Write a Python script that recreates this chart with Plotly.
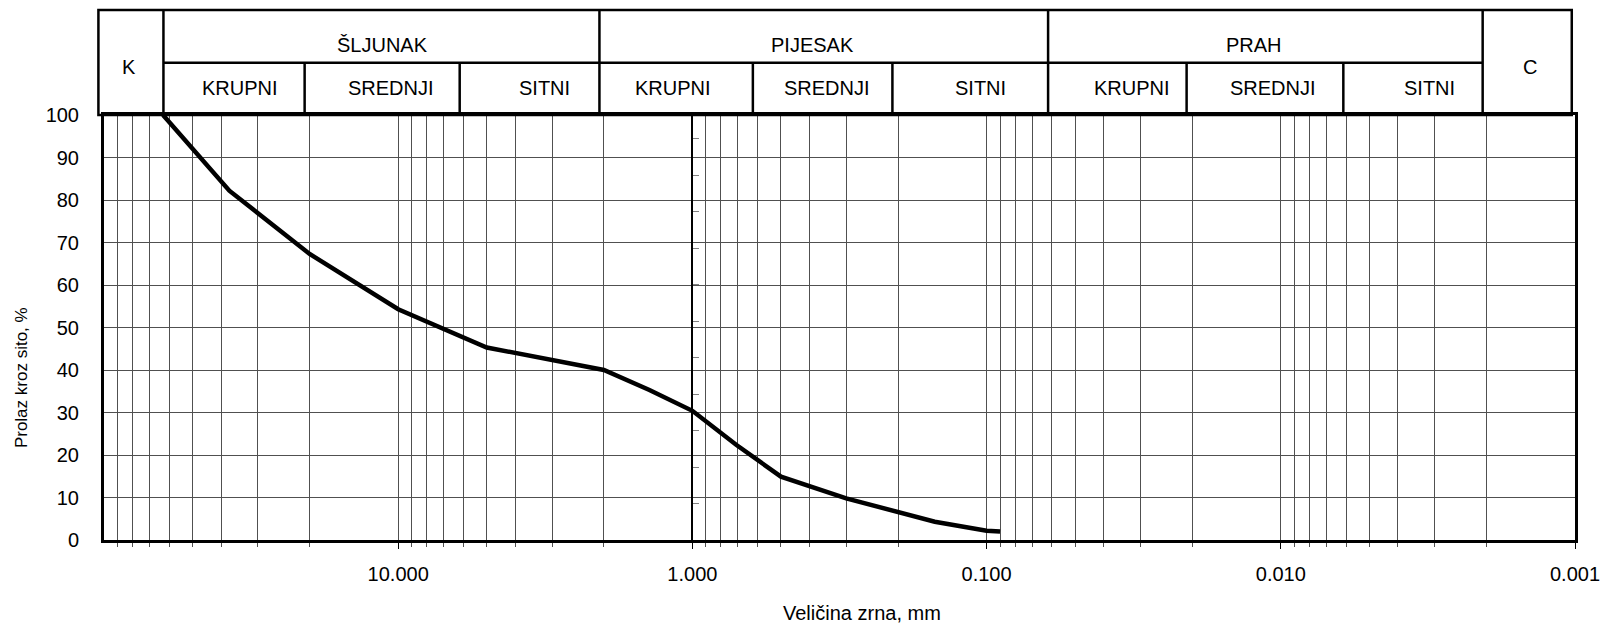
import math
import plotly.graph_objects as go

# ---- data ----
size_mm = [63, 37.5, 20, 10, 5, 2, 1.4, 1.0, 0.71, 0.5, 0.3, 0.15, 0.1, 0.09]
passing = [100, 82.2, 67.3, 54.3, 45.3, 40.0, 35.3, 30.4, 22.4, 14.9, 9.8, 4.3, 2.2, 2.0]

x_tick_vals = [10, 1, 0.1, 0.01, 0.001]
x_tick_text = ["10.000", "1.000", "0.100", "0.010", "0.001"]
minor_mult = [2, 3, 4, 5, 6, 7, 8, 9]
decades = [0.001, 0.01, 0.1, 1, 10]

# header table (soil classes), boundaries in mm
main_groups = ["ŠLJUNAK", "PIJESAK", "PRAH"]
main_label_mm = [11.3, 0.39, 0.0123]
main_bounds_mm = [62.8, 2.07, 0.0618, 0.00206]
sub_groups = ["KRUPNI", "SREDNJI", "SITNI"] * 3
sub_label_mm = [34.6, 10.55, 3.18, 1.16, 0.349, 0.1045, 0.0321, 0.01066, 0.00312]
sub_bounds_mm = [20.8, 6.18, 0.623, 0.209, 0.0209, 0.00613]
side_labels = ["K", "C"]
side_label_mm = [82.5, 0.00142]

FONT = "Liberation Sans, Arial, sans-serif"
GRID = "#505050"

minor_vals = [m * d for d in decades for m in minor_mult]

fig = go.Figure()
fig.add_trace(go.Scatter(
    x=size_mm, y=passing, mode="lines",
    line=dict(color="black", width=4.5),
    showlegend=False, hoverinfo="x+y",
))
# dummy trace so the secondary axis at 1 mm is drawn
fig.add_trace(go.Scatter(x=[1], y=[0], yaxis="y2", mode="markers",
                         marker=dict(opacity=0), showlegend=False, hoverinfo="skip"))

# ---- header table ----
Y_TOP, Y_MID, Y_BOT = 1.247, 1.123, 1.0
LW = 2.5
shapes = []
shapes.append(dict(type="rect", xref="paper", yref="paper",
                   x0=-0.0038, x1=0.9978, y0=Y_BOT, y1=Y_TOP,
                   line=dict(color="black", width=LW)))
for b in main_bounds_mm:
    shapes.append(dict(type="line", xref="x", yref="paper", x0=b, x1=b,
                       y0=Y_BOT, y1=Y_TOP, line=dict(color="black", width=LW)))
shapes.append(dict(type="line", xref="x", yref="paper",
                   x0=main_bounds_mm[0], x1=main_bounds_mm[-1], y0=Y_MID, y1=Y_MID,
                   line=dict(color="black", width=LW)))
for b in sub_bounds_mm:
    shapes.append(dict(type="line", xref="x", yref="paper", x0=b, x1=b,
                       y0=Y_BOT, y1=Y_MID, line=dict(color="black", width=LW)))

annotations = []
for t, m in zip(main_groups, main_label_mm):
    annotations.append(dict(text=t, x=math.log10(m), y=1.1654, xref="x", yref="paper",
                            showarrow=False, xanchor="center", yanchor="middle",
                            font=dict(family=FONT, size=20, color="black")))
for t, m in zip(sub_groups, sub_label_mm):
    annotations.append(dict(text=t, x=math.log10(m), y=1.0628, xref="x", yref="paper",
                            showarrow=False, xanchor="center", yanchor="middle",
                            font=dict(family=FONT, size=20, color="black")))
for t, m in zip(side_labels, side_label_mm):
    annotations.append(dict(text=t, x=math.log10(m), y=1.113, xref="x", yref="paper",
                            showarrow=False, xanchor="center", yanchor="middle",
                            font=dict(family=FONT, size=20, color="black")))
annotations.append(dict(text="Veličina zrna, mm", x=0.5152, y=-0.1725, xref="paper",
                        yref="paper", showarrow=False, xanchor="center", yanchor="middle",
                        font=dict(family=FONT, size=20, color="black")))
annotations.append(dict(text="Prolaz kroz sito, %", x=-0.0565, y=0.383, xref="paper",
                        yref="paper", showarrow=False, xanchor="center", yanchor="middle",
                        textangle=-90, font=dict(family=FONT, size=17, color="black")))

fig.update_layout(
    template="none",
    width=1603, height=625,
    margin=dict(l=104, r=28, t=115, b=85, autoexpand=False),
    paper_bgcolor="white", plot_bgcolor="white",
    font=dict(family=FONT, size=20, color="black"),
    shapes=shapes, annotations=annotations,
    xaxis=dict(
        type="log", range=[2, -3], autorange=False,
        tickmode="array", tickvals=x_tick_vals, ticktext=x_tick_text,
        ticks="outside", ticklen=6, tickwidth=1, tickcolor="black",
        tickfont=dict(family=FONT, size=20, color="black"),
        ticklabelstandoff=8,
        showgrid=True, gridcolor=GRID, gridwidth=1,
        minor=dict(tickmode="array", tickvals=minor_vals, ticks="outside", ticklen=4,
                   tickwidth=1, tickcolor=GRID, showgrid=True, gridcolor=GRID, gridwidth=1),
        showline=True, linecolor="black", linewidth=3, mirror=True,
        zeroline=False, automargin=False,
    ),
    yaxis=dict(
        range=[0, 100], autorange=False, tickmode="linear", tick0=0, dtick=10,
        ticks="", tickfont=dict(family=FONT, size=20, color="black"),
        ticklabelstandoff=18,
        showgrid=True, gridcolor=GRID, gridwidth=1,
        showline=True, linecolor="black", linewidth=3, mirror=True,
        zeroline=False, automargin=False,
    ),
    yaxis2=dict(
        overlaying="y", anchor="free", position=0.4, side="left",
        range=[0, 11.644], autorange=False, tickmode="linear", tick0=0, dtick=1,
        ticks="inside", ticklen=6, tickwidth=1, tickcolor="#808080",
        showticklabels=False, showgrid=False, zeroline=False,
        showline=True, linecolor="black", linewidth=1.5, automargin=False,
    ),
)

fig.write_html("out.html", config={"displayModeBar": False},
               post_script="document.body.style.margin='0px';")
